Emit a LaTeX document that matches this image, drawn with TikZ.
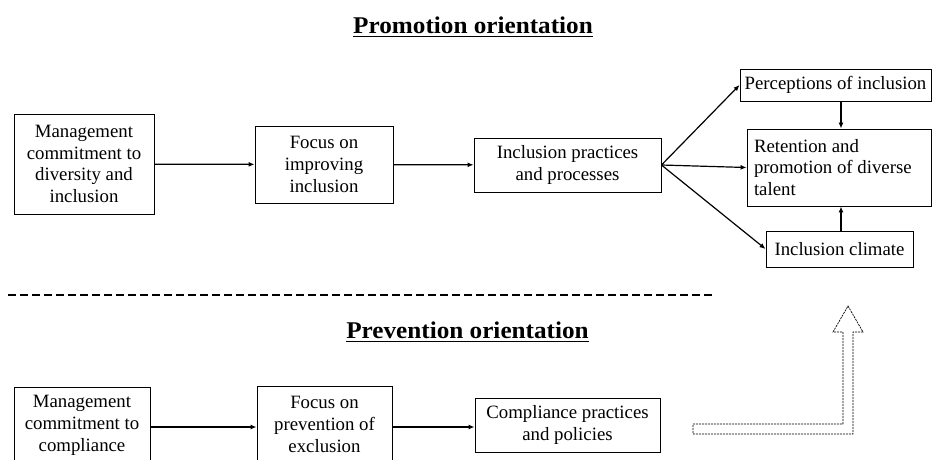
\documentclass[tikz,border=0pt]{standalone}
\usepackage{fontspec}
\setmainfont{Liberation Serif}
\usetikzlibrary{arrows.meta}
\begin{document}
\begin{tikzpicture}[x=1pt,y=-1pt,
  box/.style={draw,line width=0.9pt,align=center,inner sep=0pt,
    font=\fontsize{18.8}{21.7}\selectfont},
  conn/.style={line width=1.2pt,-{Latex[length=6pt,width=5pt]}},
  ttl/.style={inner sep=0pt,anchor=base,font=\fontsize{24}{28}\selectfont\bfseries},
  uline/.style={line width=1.8pt}]
\useasboundingbox (0,0) rectangle (932,459);
\clip (0,0) rectangle (932,459);
% titles
\node[ttl] (t1) at (473,33) {\scalebox{1.05}[1]{Promotion orientation}};
\draw[uline] ([yshift=-3.5pt]t1.base west) -- ([yshift=-3.5pt]t1.base east);
\node[ttl] (t2) at (467.5,338) {\scalebox{1.05}[1]{Prevention orientation}};
\draw[uline] ([yshift=-3.5pt]t2.base west) -- ([yshift=-3.5pt]t2.base east);
% separator
\coordinate (sepa) at (8,295);
\coordinate (sepb) at (712,295);
\draw[line width=2pt,dash pattern=on 8pt off 4pt] (sepa) -- (sepb);
% promotion row
\node[box,minimum width=140pt,minimum height=100pt] (b1) at (84,164)
  {Management\\commitment to\\diversity and\\inclusion};
\node[box,minimum width=138pt,minimum height=77pt] (b2) at (324,164.5)
  {Focus on\\improving\\inclusion};
\node[box,minimum width=187pt,minimum height=54pt] (b3) at (567.5,165)
  {Inclusion practices\\and processes};
\node[box,minimum width=191pt,minimum height=32pt] (perc) at (835.5,85)
  {Perceptions of inclusion};
\node[box,minimum width=184pt,minimum height=77pt,text width=170pt,align=flush left,inner xsep=7pt] (ret) at (839,167.5)
  {Retention and\\promotion of diverse\\talent};
\node[box,minimum width=147pt,minimum height=36pt] (clim) at (839.5,249)
  {Inclusion climate};
\draw[conn] (b1) -- (b2);
\draw[conn] (b2) -- (b3);
\draw[conn] (b3.east) -- (perc.west);
\draw[conn] (b3.east) -- (ret.west);
\draw[conn] (b3.east) -- (clim.west);
\draw[conn] (perc.south -| 841,0) -- (ret.north -| 841,0);
\draw[conn] (clim.north -| 841,0) -- (ret.south -| 841,0);
% prevention row
\node[box,minimum width=136pt,minimum height=77pt] (p1) at (82,425.5)
  {Management\\commitment to\\compliance};
\node[box,minimum width=135pt,minimum height=77pt] (p2) at (324.5,424.5)
  {Focus on\\prevention of\\exclusion};
\node[box,minimum width=185pt,minimum height=54pt] (p3) at (567.5,425)
  {Compliance practices\\and policies};
\draw[conn] (p1.east |- 0,427) -- (p2.west |- 0,427);
\draw[conn] (p2.east |- 0,427) -- (p3.west |- 0,427);
% big dashed arrow
\draw[line width=0.7pt,dash pattern=on 2pt off 1pt]
  (693,424) -- (843,424) -- (843,332) -- (833,332) -- (848,306)
  -- (863,332) -- (853,332) -- (853,434) -- (693,434) -- cycle;
\end{tikzpicture}
\end{document}
